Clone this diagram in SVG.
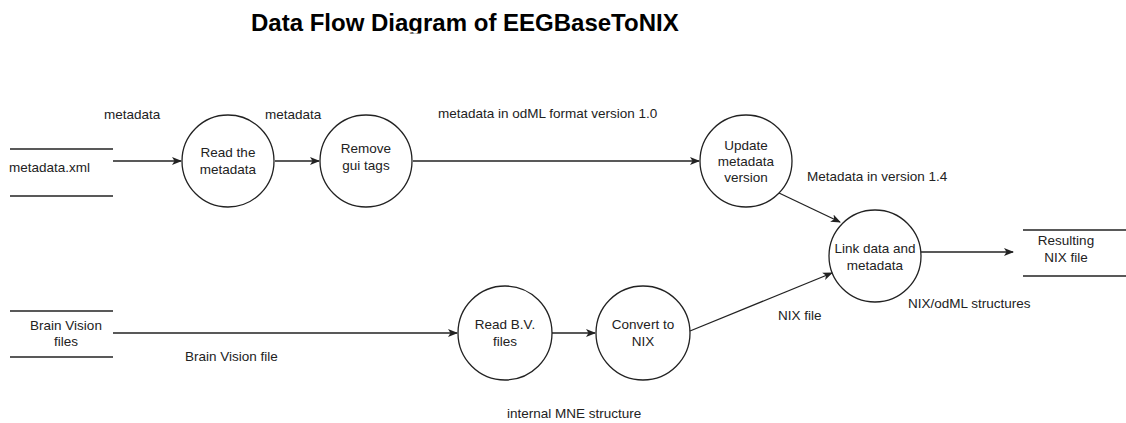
<svg xmlns="http://www.w3.org/2000/svg" width="1126" height="423" viewBox="0 0 1126 423">
<style>
text{font-family:"Liberation Sans",Arial,sans-serif;font-size:13.5px;fill:#222;}
.t{text-anchor:middle;}
.node circle{fill:#fff;stroke:#222;stroke-width:1.3;}
.store line{stroke:#222;stroke-width:1.3;}
.conn line{stroke:#222;stroke-width:1.3;fill:none;}
.title{font-size:24px;font-weight:bold;fill:#000;}
</style>
<defs>
<marker id="arr" viewBox="0 0 10 10" refX="9" refY="5" markerWidth="10" markerHeight="10" markerUnits="userSpaceOnUse" orient="auto">
<path d="M0,1 L10,5 L0,9 L2.5,5 Z" fill="#222"/>
</marker>
<clipPath id="tc"><rect x="0" y="0" width="1126" height="33.5"/></clipPath>
</defs>
<rect width="1126" height="423" fill="#fff"/>
<text class="title" x="251" y="31" clip-path="url(#tc)">Data Flow Diagram of EEGBaseToNIX</text>

<g id="store-metadata" class="store">
<line x1="10" y1="149" x2="113" y2="149"/>
<line x1="10" y1="196" x2="113" y2="196"/>
<text x="9" y="172">metadata.xml</text>
</g>
<g id="store-brainvision" class="store">
<line x1="10" y1="311" x2="113" y2="311"/>
<line x1="10" y1="357" x2="113" y2="357"/>
<text class="t" x="66" y="330">Brain Vision</text>
<text class="t" x="66" y="346">files</text>
</g>
<g id="store-result" class="store">
<line x1="1023" y1="230" x2="1126" y2="230"/>
<line x1="1023" y1="276" x2="1126" y2="276"/>
<text class="t" x="1066" y="245">Resulting</text>
<text class="t" x="1066" y="262">NIX file</text>
</g>

<g id="node-read-metadata" class="node">
<circle cx="228" cy="161" r="46"/>
<text class="t" x="228" y="157">Read the</text>
<text class="t" x="228" y="174">metadata</text>
</g>
<g id="node-remove-gui" class="node">
<circle cx="366" cy="161" r="46"/>
<text class="t" x="366" y="153">Remove</text>
<text class="t" x="366" y="170">gui tags</text>
</g>
<g id="node-update" class="node">
<circle cx="746" cy="161" r="46"/>
<text class="t" x="746" y="150">Update</text>
<text class="t" x="746" y="166">metadata</text>
<text class="t" x="746" y="182">version</text>
</g>
<g id="node-link" class="node">
<circle cx="875" cy="256" r="46"/>
<text class="t" x="875" y="253">Link data and</text>
<text class="t" x="875" y="270">metadata</text>
</g>
<g id="node-read-bv" class="node">
<circle cx="505" cy="333" r="47"/>
<text class="t" x="505" y="329">Read B.V.</text>
<text class="t" x="505" y="346">files</text>
</g>
<g id="node-convert" class="node">
<circle cx="643" cy="333" r="47"/>
<text class="t" x="643" y="329">Convert to</text>
<text class="t" x="643" y="346">NIX</text>
</g>

<g id="connectors" class="conn">
<line x1="113" y1="161" x2="181" y2="161" marker-end="url(#arr)"/>
<line x1="275" y1="161" x2="319" y2="161" marker-end="url(#arr)"/>
<line x1="413" y1="161" x2="699" y2="161" marker-end="url(#arr)"/>
<line x1="779" y1="193" x2="840" y2="222" marker-end="url(#arr)"/>
<line x1="921" y1="252" x2="1013" y2="252" marker-end="url(#arr)"/>
<line x1="113" y1="333" x2="457" y2="333" marker-end="url(#arr)"/>
<line x1="552" y1="333" x2="595" y2="333" marker-end="url(#arr)"/>
<line x1="690" y1="331" x2="832" y2="273" marker-end="url(#arr)"/>
</g>

<g id="labels">
<text x="104" y="119">metadata</text>
<text x="265" y="119">metadata</text>
<text x="438" y="118">metadata in odML format version 1.0</text>
<text x="807" y="181">Metadata in version 1.4</text>
<text x="908" y="308">NIX/odML structures</text>
<text x="778" y="320">NIX file</text>
<text x="185" y="361">Brain Vision file</text>
<text x="507" y="418">internal MNE structure</text>
</g>
</svg>
